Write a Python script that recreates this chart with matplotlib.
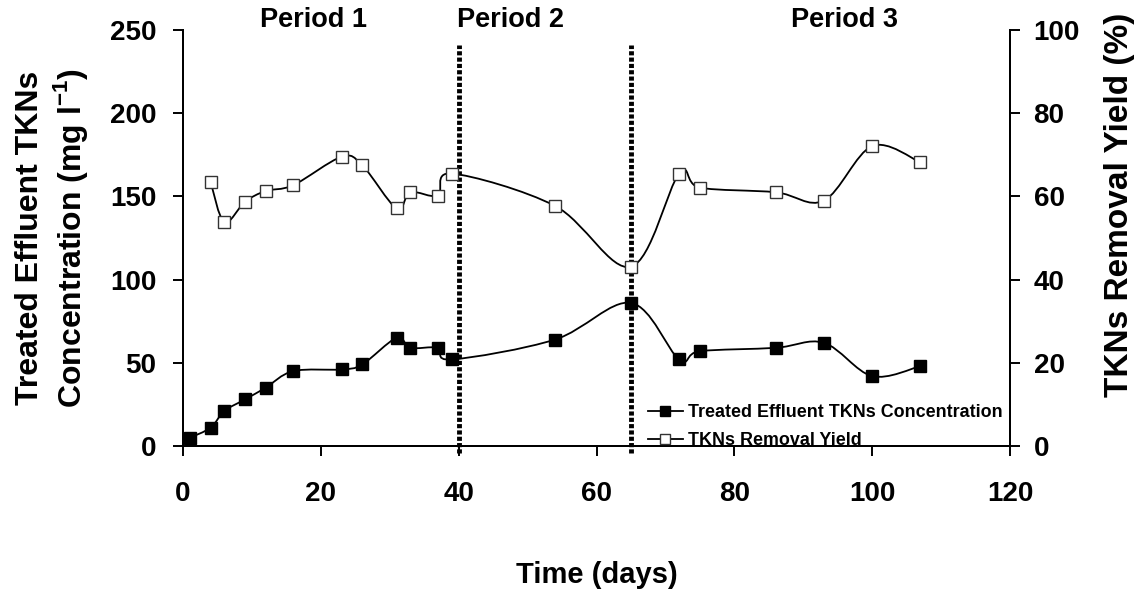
import numpy as np
import matplotlib
matplotlib.use("Agg")
import matplotlib.pyplot as plt
from matplotlib.path import Path
from matplotlib.patches import PathPatch
from matplotlib.lines import Line2D

plt.rcParams['font.family'] = ['Liberation Sans', 'DejaVu Sans']
plt.rcParams['font.weight'] = 'bold'
plt.rcParams['mathtext.fontset'] = 'custom'
plt.rcParams['mathtext.rm'] = 'Liberation Sans:bold'
plt.rcParams['mathtext.bf'] = 'Liberation Sans:bold'

# Datos
dias_tkn = [1, 4, 6, 9, 12, 16, 23, 26, 31, 33, 37, 39, 54, 65, 72, 75, 86, 93, 100, 107]
tkn_efluente = [5, 11, 21, 28, 35, 45, 46, 49, 65, 59, 59, 52, 64, 86, 52, 57, 59, 62, 42, 48]

dias_rend = [4, 6, 9, 12, 16, 23, 26, 31, 33, 37, 39, 54, 65, 72, 75, 86, 93, 100, 107]
rendimiento = [63.5, 53.8, 58.7, 61.3, 62.7, 69.5, 67.5, 57.1, 61.0, 60.2, 65.5, 57.7,
               43.1, 65.5, 62.1, 61.0, 59.0, 72.1, 68.2]

limites_periodo = [40, 65]
periodos = ["Period 1", "Period 2", "Period 3"]
pos_periodos = [19, 47.5, 96]


def curva_suave(x, y):
    # linea suavizada tipo Excel (Bezier cubica, Catmull-Rom)
    p = np.column_stack([x, y]).astype(float)
    verts = [p[0]]
    codes = [Path.MOVETO]
    n = len(p)
    for i in range(n - 1):
        p0 = p[i - 1] if i > 0 else p[i]
        p1 = p[i]
        p2 = p[i + 1]
        p3 = p[i + 2] if i + 2 < n else p[i + 1]
        c1 = p1 + (p2 - p0) / 6
        c2 = p2 - (p3 - p1) / 6
        verts += [c1, c2, p2]
        codes += [Path.CURVE4] * 3
    return Path(verts, codes)


fig = plt.figure(figsize=(11.35, 5.9), dpi=100)
ax = fig.add_axes([183 / 1135, 1 - 446 / 590, (1010 - 183) / 1135, (446 - 30) / 590])
ax2 = ax.twinx()

lw = 1.3
ax.add_patch(PathPatch(curva_suave(dias_tkn, tkn_efluente), fc='none', ec='black', lw=lw))
ax.plot(dias_tkn, tkn_efluente, ls='none', marker='s', ms=8.5, mfc='black', mec='black')

ax2.add_patch(PathPatch(curva_suave(dias_rend, rendimiento), fc='none', ec='black', lw=lw))
ax2.plot(dias_rend, rendimiento, ls='none', marker='s', ms=8.5, mfc='white', mec='#333333', mew=1)

for xl in limites_periodo:
    ax.plot([xl, xl], [-4, 241], color='black', lw=3.5, ls=(0, (0.85, 0.45)), clip_on=False)

for nombre, xp in zip(periodos, pos_periodos):
    ax.text(xp, 256, nombre, ha='center', va='center', fontsize=19.5, fontweight='bold', clip_on=False)

ax.set_xlim(0, 120)
ax.set_ylim(0, 250)
ax2.set_ylim(0, 100)
ax.set_xticks(range(0, 121, 20))
ax.set_yticks(range(0, 251, 50))
ax2.set_yticks(range(0, 101, 20))

for a in (ax, ax2):
    a.spines['top'].set_visible(False)
    for s in a.spines.values():
        s.set_linewidth(1.4)
    a.tick_params(direction='out', length=7, width=1.4, labelsize=20)
ax.tick_params(axis='y', pad=12)
ax.tick_params(axis='x', pad=18)
ax2.tick_params(axis='y', pad=10)

ax.set_ylabel("Treated Effluent TKNs\nConcentration (mg l$^{-1}$)", fontsize=23,
              fontweight='bold', linespacing=1.2)
ax.yaxis.set_label_coords(-0.112, 0.5)
ax.set_xlabel("Time (days)", fontsize=21, fontweight='bold')
ax.xaxis.set_label_coords(0.5, -0.276)
ax2.set_ylabel("TKNs Removal Yield (%)", fontsize=24, fontweight='bold')
ax2.yaxis.set_label_coords(1.114, 0.58)

handles = [
    Line2D([], [], color='black', lw=lw, marker='s', ms=7.5, mfc='black', mec='black'),
    Line2D([], [], color='black', lw=lw, marker='s', ms=7.5, mfc='white', mec='#333333'),
]
ax2.legend(handles, ["Treated Effluent TKNs Concentration", "TKNs Removal Yield"],
           loc='lower left', bbox_to_anchor=(648 / 1135, 1 - 449 / 590), bbox_transform=fig.transFigure,
           frameon=False, fontsize=12.9, handlelength=1.95, handletextpad=0.3, borderpad=0,
           borderaxespad=0, labelspacing=0.62)

fig.savefig("out.png", dpi=100)
